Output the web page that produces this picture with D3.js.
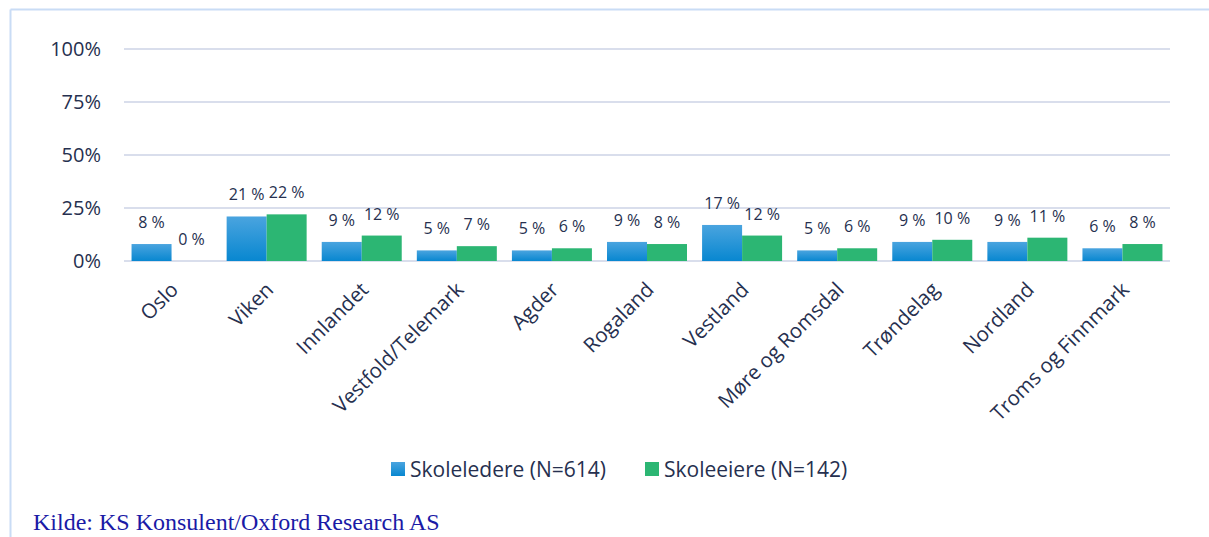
<!DOCTYPE html>
<html>
<head>
<meta charset="utf-8">
<script src="https://cdn.jsdelivr.net/npm/d3@7"></script>
<style>
    body { margin: 0; background: #ffffff; }
    svg { display: block; }
</style>
</head>
<body>
<svg id="chart" width="1209" height="537"></svg>
<script>
// Categories and values
var regions = ['Oslo', 'Viken', 'Innlandet', 'Vestfold/Telemark', 'Agder', 'Rogaland',
    'Vestland', 'Møre og Romsdal', 'Trøndelag', 'Nordland', 'Troms og Finnmark'];
var skoleledere = [8, 21, 9, 5, 5, 9, 17, 5, 9, 9, 6];
var skoleeiere = [0, 22, 12, 7, 6, 8, 12, 6, 10, 11, 8];
var seriesNames = ['Skoleledere (N=614)', 'Skoleeiere (N=142)'];
var yTicks = [0, 25, 50, 75, 100];
var source = 'Kilde: KS Konsulent/Oxford Research AS';

var textColor = '#26304f';
var font = '"Open Sans", "Noto Sans", sans-serif';

var svg = d3.select('#chart');

// Frame around the chart (only top and left visible)
svg.append('line')
    .attr('x1', 10.5).attr('x2', 1209).attr('y1', 9.5).attr('y2', 9.5)
    .style('stroke', '#c9dcf5').style('stroke-width', 2);
svg.append('line')
    .attr('x1', 10.5).attr('x2', 10.5).attr('y1', 9.5).attr('y2', 537)
    .style('stroke', '#c9dcf5').style('stroke-width', 2);

// Scales
var x = d3.scaleBand()
    .domain(regions)
    .range([124, 1170]);

var y = d3.scaleLinear()
    .domain([0, 100])
    .range([261, 49]);

var barWidth = 40;

// Gradient for the blue series
var defs = svg.append('defs');
var blueGrad = defs.append('linearGradient')
    .attr('id', 'blueGrad')
    .attr('x1', '0%').attr('y1', '0%').attr('x2', '0%').attr('y2', '100%');
blueGrad.append('stop').attr('offset', '0%').style('stop-color', '#4aa4df');
blueGrad.append('stop').attr('offset', '100%').style('stop-color', '#0887d0');

// Gridlines
svg.append('g')
    .selectAll('line')
    .data(yTicks)
    .enter()
    .append('line')
    .attr('x1', 124)
    .attr('x2', 1170)
    .attr('y1', function (d) { return y(d); })
    .attr('y2', function (d) { return y(d); })
    .style('stroke', '#d9deec')
    .style('stroke-width', 2);

// Y axis labels
svg.append('g')
    .selectAll('text')
    .data(yTicks)
    .enter()
    .append('text')
    .attr('x', 101)
    .attr('y', function (d) { return y(d); })
    .attr('dy', '0.36em')
    .attr('text-anchor', 'end')
    .style('font-family', font)
    .style('font-size', '20px')
    .style('fill', textColor)
    .text(function (d) { return d + '%'; });

// Bars
var series = [
    { name: seriesNames[0], values: skoleledere, fill: 'url(#blueGrad)', offset: -barWidth },
    { name: seriesNames[1], values: skoleeiere, fill: '#2cb673', offset: 0 }
];

series.forEach(function (s) {
    var g = svg.append('g');
    g.selectAll('rect')
        .data(s.values)
        .enter()
        .append('rect')
        .attr('x', function (d, i) { return x(regions[i]) + x.bandwidth() / 2 + s.offset; })
        .attr('y', function (d) { return y(d); })
        .attr('width', barWidth)
        .attr('height', function (d) { return y(0) - y(d); })
        .style('fill', s.fill);

    // Data labels above each bar
    g.selectAll('text')
        .data(s.values)
        .enter()
        .append('text')
        .attr('x', function (d, i) { return x(regions[i]) + x.bandwidth() / 2 + s.offset + barWidth / 2; })
        .attr('y', function (d) { return y(d) - 16; })
        .attr('text-anchor', 'middle')
        .style('font-family', font)
        .style('font-size', '16px')
        .style('fill', textColor)
        .text(function (d) { return d + ' %'; });
});

// Category labels, rotated
svg.append('g')
    .selectAll('text')
    .data(regions)
    .enter()
    .append('text')
    .attr('transform', function (d) {
        return 'translate(' + (x(d) + x.bandwidth() / 2 + 8) + ',291) rotate(-45)';
    })
    .attr('text-anchor', 'end')
    .style('font-family', font)
    .style('font-size', '20.5px')
    .style('fill', textColor)
    .text(function (d) { return d; });

// Legend
var legendItems = [
    { name: seriesNames[0], fill: 'url(#blueGrad)', x: 391 },
    { name: seriesNames[1], fill: '#2cb673', x: 645 }
];
var legend = svg.append('g')
    .selectAll('g')
    .data(legendItems)
    .enter()
    .append('g')
    .attr('transform', function (d) { return 'translate(' + d.x + ',462)'; });
legend.append('rect')
    .attr('width', 14)
    .attr('height', 14)
    .style('fill', function (d) { return d.fill; });
legend.append('text')
    .attr('x', 19)
    .attr('y', 7)
    .attr('dy', '0.36em')
    .style('font-family', font)
    .style('font-size', '21px')
    .style('fill', textColor)
    .text(function (d) { return d.name; });

// Source line
svg.append('text')
    .attr('x', 33)
    .attr('y', 530)
    .style('font-family', '"Liberation Serif", "Times New Roman", serif')
    .style('font-size', '24px')
    .style('fill', '#1a1aa6')
    .text(source);
</script>
</body>
</html>
